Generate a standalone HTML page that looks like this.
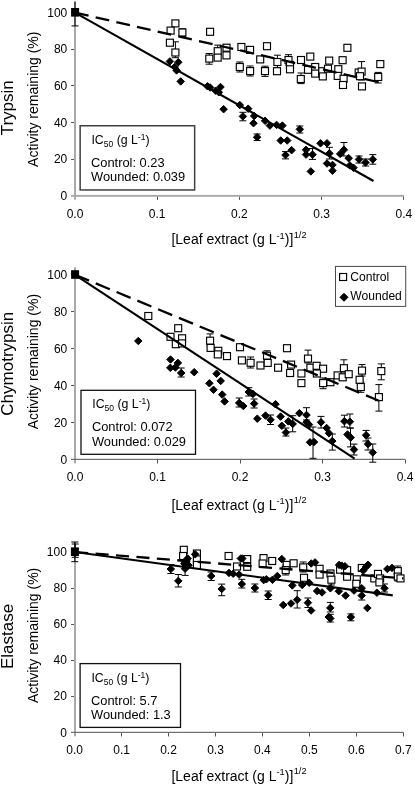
<!DOCTYPE html>
<html><head><meta charset="utf-8"><title>Protease inhibition</title>
<style>
html,body{margin:0;padding:0;background:#fff;}
body{width:415px;height:786px;overflow:hidden;}
svg{display:block;will-change:transform;}
text{font-family:"Liberation Sans", sans-serif;fill:#000;}
</style></head><body>
<svg width="415" height="786" viewBox="0 0 415 786">
<rect x="74" y="1.5" width="2" height="198.20" fill="#a9a9a9"/>
<rect x="71" y="194.9" width="333.00" height="1.9" fill="#a9a9a9"/>
<text x="67.3" y="199.90" text-anchor="end" font-size="12">0</text>
<rect x="71" y="159" width="3" height="1" fill="#555"/>
<text x="67.3" y="163.28" text-anchor="end" font-size="12">20</text>
<rect x="71" y="122" width="3" height="1" fill="#555"/>
<text x="67.3" y="126.66" text-anchor="end" font-size="12">40</text>
<rect x="71" y="85" width="3" height="1" fill="#555"/>
<text x="67.3" y="90.04" text-anchor="end" font-size="12">60</text>
<rect x="71" y="49" width="3" height="1" fill="#555"/>
<text x="67.3" y="53.42" text-anchor="end" font-size="12">80</text>
<rect x="71" y="12" width="3" height="1" fill="#555"/>
<text x="67.3" y="16.80" text-anchor="end" font-size="12">100</text>
<text x="75.00" y="217.80" text-anchor="middle" font-size="12">0.0</text>
<rect x="157" y="196.80" width="1" height="3.10" fill="#555"/>
<text x="157.20" y="217.80" text-anchor="middle" font-size="12">0.1</text>
<rect x="239" y="196.80" width="1" height="3.10" fill="#555"/>
<text x="239.40" y="217.80" text-anchor="middle" font-size="12">0.2</text>
<rect x="321" y="196.80" width="1" height="3.10" fill="#555"/>
<text x="321.60" y="217.80" text-anchor="middle" font-size="12">0.3</text>
<rect x="403" y="196.80" width="1" height="3.10" fill="#555"/>
<text x="403.80" y="217.80" text-anchor="middle" font-size="12">0.4</text>
<rect x="80.15" y="125.75" width="114.50" height="64.20" fill="#fff" stroke="#404040" stroke-width="1.5"/>
<text x="91.45" y="143.85" font-size="12.3">IC<tspan font-size="8.5" dy="2.8">50</tspan><tspan dy="-2.8"> (g L</tspan><tspan font-size="8.5" dy="-4.2">-1</tspan><tspan dy="4.2">)</tspan></text>
<text x="91.05" y="166.85" font-size="12.85">Control: 0.23</text>
<text x="91.05" y="181.25" font-size="12.85">Wounded: 0.039</text>
<path d="M175.4 41.8V57.7M171.9 41.8H178.9M171.9 57.7H178.9" stroke="#000" stroke-width="1" fill="none"/>
<path d="M217.7 45.1V51.0M214.2 45.1H221.2M214.2 51.0H221.2" stroke="#000" stroke-width="1" fill="none"/>
<path d="M226.4 44.8V50.0M222.9 44.8H229.9M222.9 50.0H229.9" stroke="#000" stroke-width="1" fill="none"/>
<path d="M209.2 53.5V64.2M205.7 53.5H212.7M205.7 64.2H212.7" stroke="#000" stroke-width="1" fill="none"/>
<path d="M265.0 66.2V76.4M261.5 66.2H268.5M261.5 76.4H268.5" stroke="#000" stroke-width="1" fill="none"/>
<path d="M277.4 55.2V68.0M273.9 55.2H280.9M273.9 68.0H280.9" stroke="#000" stroke-width="1" fill="none"/>
<path d="M288.5 54.7V65.0M285.0 54.7H292.0M285.0 65.0H292.0" stroke="#000" stroke-width="1" fill="none"/>
<path d="M301.0 73.0V83.6M297.5 73.0H304.5M297.5 83.6H304.5" stroke="#000" stroke-width="1" fill="none"/>
<path d="M361.6 61.6V80.0M358.1 61.6H365.1M358.1 80.0H365.1" stroke="#000" stroke-width="1" fill="none"/>
<path d="M378.2 72.4V83.0M374.7 72.4H381.7M374.7 83.0H381.7" stroke="#000" stroke-width="1" fill="none"/>
<path d="M239.8 62.0V72.0M236.3 62.0H243.3M236.3 72.0H243.3" stroke="#000" stroke-width="1" fill="none"/>
<path d="M182.4 28.8V36.5M178.9 28.8H185.9M178.9 36.5H185.9" stroke="#000" stroke-width="1" fill="none"/>
<path d="M250.1 66.0V76.0M246.6 66.0H253.6M246.6 76.0H253.6" stroke="#000" stroke-width="1" fill="none"/>
<path d="M242.9 112.3V120.8M239.4 112.3H246.4M239.4 120.8H246.4" stroke="#000" stroke-width="1" fill="none"/>
<path d="M257.1 134.0V140.5M253.6 134.0H260.6M253.6 140.5H260.6" stroke="#000" stroke-width="1" fill="none"/>
<path d="M285.5 151.6V158.9M282.0 151.6H289.0M282.0 158.9H289.0" stroke="#000" stroke-width="1" fill="none"/>
<path d="M312.5 148.6V159.4M309.0 148.6H316.0M309.0 159.4H316.0" stroke="#000" stroke-width="1" fill="none"/>
<path d="M329.4 147.3V159.0M325.9 147.3H332.9M325.9 159.0H332.9" stroke="#000" stroke-width="1" fill="none"/>
<path d="M343.9 142.5V156.0M340.4 142.5H347.4M340.4 156.0H347.4" stroke="#000" stroke-width="1" fill="none"/>
<path d="M372.8 154.6V164.2M369.3 154.6H376.3M369.3 164.2H376.3" stroke="#000" stroke-width="1" fill="none"/>
<path d="M299.8 126.0V133.0M296.3 126.0H303.3M296.3 133.0H303.3" stroke="#000" stroke-width="1" fill="none"/>
<path d="M359.0 156.0V163.0M355.5 156.0H362.5M355.5 163.0H362.5" stroke="#000" stroke-width="1" fill="none"/>
<path d="M365.5 159.0V166.0M362.0 159.0H369.0M362.0 166.0H369.0" stroke="#000" stroke-width="1" fill="none"/>
<path d="M75.0 1.5V25.9M71.5 25.9H78.5" stroke="#000" stroke-width="1" fill="none"/>
<rect x="171.9" y="19.9" width="7" height="7" fill="#fff" stroke="#000" stroke-width="1.15"/>
<rect x="167.1" y="27.1" width="7" height="7" fill="#fff" stroke="#000" stroke-width="1.15"/>
<rect x="178.9" y="29.0" width="7" height="7" fill="#fff" stroke="#000" stroke-width="1.15"/>
<rect x="166.4" y="39.2" width="7" height="7" fill="#fff" stroke="#000" stroke-width="1.15"/>
<rect x="171.9" y="49.0" width="7" height="7" fill="#fff" stroke="#000" stroke-width="1.15"/>
<rect x="206.6" y="28.3" width="7" height="7" fill="#fff" stroke="#000" stroke-width="1.15"/>
<rect x="205.8" y="55.1" width="7" height="7" fill="#fff" stroke="#000" stroke-width="1.15"/>
<rect x="214.2" y="47.7" width="7" height="7" fill="#fff" stroke="#000" stroke-width="1.15"/>
<rect x="214.2" y="54.1" width="7" height="7" fill="#fff" stroke="#000" stroke-width="1.15"/>
<rect x="223.0" y="44.2" width="7" height="7" fill="#fff" stroke="#000" stroke-width="1.15"/>
<rect x="223.0" y="51.9" width="7" height="7" fill="#fff" stroke="#000" stroke-width="1.15"/>
<rect x="237.9" y="43.5" width="7" height="7" fill="#fff" stroke="#000" stroke-width="1.15"/>
<rect x="246.6" y="46.4" width="7" height="7" fill="#fff" stroke="#000" stroke-width="1.15"/>
<rect x="236.3" y="63.5" width="7" height="7" fill="#fff" stroke="#000" stroke-width="1.15"/>
<rect x="246.6" y="67.6" width="7" height="7" fill="#fff" stroke="#000" stroke-width="1.15"/>
<rect x="263.5" y="42.7" width="7" height="7" fill="#fff" stroke="#000" stroke-width="1.15"/>
<rect x="256.7" y="55.9" width="7" height="7" fill="#fff" stroke="#000" stroke-width="1.15"/>
<rect x="261.5" y="67.6" width="7" height="7" fill="#fff" stroke="#000" stroke-width="1.15"/>
<rect x="273.9" y="58.5" width="7" height="7" fill="#fff" stroke="#000" stroke-width="1.15"/>
<rect x="273.5" y="67.7" width="7" height="7" fill="#fff" stroke="#000" stroke-width="1.15"/>
<rect x="285.0" y="56.5" width="7" height="7" fill="#fff" stroke="#000" stroke-width="1.15"/>
<rect x="286.5" y="61.4" width="7" height="7" fill="#fff" stroke="#000" stroke-width="1.15"/>
<rect x="286.5" y="65.8" width="7" height="7" fill="#fff" stroke="#000" stroke-width="1.15"/>
<rect x="297.5" y="56.5" width="7" height="7" fill="#fff" stroke="#000" stroke-width="1.15"/>
<rect x="306.8" y="53.1" width="7" height="7" fill="#fff" stroke="#000" stroke-width="1.15"/>
<rect x="304.5" y="66.3" width="7" height="7" fill="#fff" stroke="#000" stroke-width="1.15"/>
<rect x="311.7" y="63.5" width="7" height="7" fill="#fff" stroke="#000" stroke-width="1.15"/>
<rect x="311.7" y="70.1" width="7" height="7" fill="#fff" stroke="#000" stroke-width="1.15"/>
<rect x="297.3" y="75.5" width="7" height="7" fill="#fff" stroke="#000" stroke-width="1.15"/>
<rect x="318.8" y="67.7" width="7" height="7" fill="#fff" stroke="#000" stroke-width="1.15"/>
<rect x="319.3" y="72.9" width="7" height="7" fill="#fff" stroke="#000" stroke-width="1.15"/>
<rect x="325.7" y="57.1" width="7" height="7" fill="#fff" stroke="#000" stroke-width="1.15"/>
<rect x="324.5" y="65.2" width="7" height="7" fill="#fff" stroke="#000" stroke-width="1.15"/>
<rect x="343.9" y="44.3" width="7" height="7" fill="#fff" stroke="#000" stroke-width="1.15"/>
<rect x="339.1" y="56.7" width="7" height="7" fill="#fff" stroke="#000" stroke-width="1.15"/>
<rect x="334.8" y="65.7" width="7" height="7" fill="#fff" stroke="#000" stroke-width="1.15"/>
<rect x="334.2" y="72.4" width="7" height="7" fill="#fff" stroke="#000" stroke-width="1.15"/>
<rect x="340.1" y="75.3" width="7" height="7" fill="#fff" stroke="#000" stroke-width="1.15"/>
<rect x="339.5" y="81.5" width="7" height="7" fill="#fff" stroke="#000" stroke-width="1.15"/>
<rect x="355.2" y="69.0" width="7" height="7" fill="#fff" stroke="#000" stroke-width="1.15"/>
<rect x="358.1" y="68.1" width="7" height="7" fill="#fff" stroke="#000" stroke-width="1.15"/>
<rect x="358.5" y="82.9" width="7" height="7" fill="#fff" stroke="#000" stroke-width="1.15"/>
<rect x="376.8" y="60.6" width="7" height="7" fill="#fff" stroke="#000" stroke-width="1.15"/>
<rect x="374.7" y="73.5" width="7" height="7" fill="#fff" stroke="#000" stroke-width="1.15"/>
<rect x="356.5" y="72.7" width="7" height="7" fill="#fff" stroke="#000" stroke-width="1.15"/>
<path d="M207.5 82.55L211.25 86.3L207.5 90.05L203.75 86.3Z" fill="#000" stroke="#000" stroke-width="1" stroke-linejoin="round"/>
<path d="M169.9 57.65L173.65 61.4L169.9 65.15L166.15 61.4Z" fill="#000" stroke="#000" stroke-width="1" stroke-linejoin="round"/>
<path d="M178.3 58.45L182.05 62.2L178.3 65.95L174.55 62.2Z" fill="#000" stroke="#000" stroke-width="1" stroke-linejoin="round"/>
<path d="M174.7 63.25L178.45 67.0L174.7 70.75L170.95 67.0Z" fill="#000" stroke="#000" stroke-width="1" stroke-linejoin="round"/>
<path d="M176.6 66.65L180.35 70.4L176.6 74.15L172.85 70.4Z" fill="#000" stroke="#000" stroke-width="1" stroke-linejoin="round"/>
<path d="M180.7 77.65L184.45 81.4L180.7 85.15L176.95 81.4Z" fill="#000" stroke="#000" stroke-width="1" stroke-linejoin="round"/>
<path d="M210.1 83.75L213.85 87.5L210.1 91.25L206.35 87.5Z" fill="#000" stroke="#000" stroke-width="1" stroke-linejoin="round"/>
<path d="M215.7 86.95L219.45 90.7L215.7 94.45L211.95 90.7Z" fill="#000" stroke="#000" stroke-width="1" stroke-linejoin="round"/>
<path d="M220.5 83.25L224.25 87.0L220.5 90.75L216.75 87.0Z" fill="#000" stroke="#000" stroke-width="1" stroke-linejoin="round"/>
<path d="M218.8 88.55L222.55 92.3L218.8 96.05L215.05 92.3Z" fill="#000" stroke="#000" stroke-width="1" stroke-linejoin="round"/>
<path d="M223.6 105.45L227.35 109.2L223.6 112.95L219.85 109.2Z" fill="#000" stroke="#000" stroke-width="1" stroke-linejoin="round"/>
<path d="M239.8 101.35L243.55 105.1L239.8 108.85L236.05 105.1Z" fill="#000" stroke="#000" stroke-width="1" stroke-linejoin="round"/>
<path d="M248.2 104.95L251.95 108.7L248.2 112.45L244.45 108.7Z" fill="#000" stroke="#000" stroke-width="1" stroke-linejoin="round"/>
<path d="M242.9 112.65L246.65 116.4L242.9 120.15L239.15 116.4Z" fill="#000" stroke="#000" stroke-width="1" stroke-linejoin="round"/>
<path d="M254.2 112.25L257.95 116.0L254.2 119.75L250.45 116.0Z" fill="#000" stroke="#000" stroke-width="1" stroke-linejoin="round"/>
<path d="M253.5 119.45L257.25 123.2L253.5 126.95L249.75 123.2Z" fill="#000" stroke="#000" stroke-width="1" stroke-linejoin="round"/>
<path d="M257.1 133.45L260.85 137.2L257.1 140.95L253.35 137.2Z" fill="#000" stroke="#000" stroke-width="1" stroke-linejoin="round"/>
<path d="M265.1 117.05L268.85 120.8L265.1 124.55L261.35 120.8Z" fill="#000" stroke="#000" stroke-width="1" stroke-linejoin="round"/>
<path d="M269.9 121.85L273.65 125.6L269.9 129.35L266.15 125.6Z" fill="#000" stroke="#000" stroke-width="1" stroke-linejoin="round"/>
<path d="M276.6 121.15L280.35 124.9L276.6 128.65L272.85 124.9Z" fill="#000" stroke="#000" stroke-width="1" stroke-linejoin="round"/>
<path d="M282.4 121.85L286.15 125.6L282.4 129.35L278.65 125.6Z" fill="#000" stroke="#000" stroke-width="1" stroke-linejoin="round"/>
<path d="M280.7 136.75L284.45 140.5L280.7 144.25L276.95 140.5Z" fill="#000" stroke="#000" stroke-width="1" stroke-linejoin="round"/>
<path d="M287.2 136.75L290.95 140.5L287.2 144.25L283.45 140.5Z" fill="#000" stroke="#000" stroke-width="1" stroke-linejoin="round"/>
<path d="M291.6 146.45L295.35 150.2L291.6 153.95L287.85 150.2Z" fill="#000" stroke="#000" stroke-width="1" stroke-linejoin="round"/>
<path d="M285.5 151.25L289.25 155.0L285.5 158.75L281.75 155.0Z" fill="#000" stroke="#000" stroke-width="1" stroke-linejoin="round"/>
<path d="M299.8 125.55L303.55 129.3L299.8 133.05L296.05 129.3Z" fill="#000" stroke="#000" stroke-width="1" stroke-linejoin="round"/>
<path d="M306.0 146.05L309.75 149.8L306.0 153.55L302.25 149.8Z" fill="#000" stroke="#000" stroke-width="1" stroke-linejoin="round"/>
<path d="M306.0 150.85L309.75 154.6L306.0 158.35L302.25 154.6Z" fill="#000" stroke="#000" stroke-width="1" stroke-linejoin="round"/>
<path d="M312.5 150.85L316.25 154.6L312.5 158.35L308.75 154.6Z" fill="#000" stroke="#000" stroke-width="1" stroke-linejoin="round"/>
<path d="M310.8 167.65L314.55 171.4L310.8 175.15L307.05 171.4Z" fill="#000" stroke="#000" stroke-width="1" stroke-linejoin="round"/>
<path d="M320.5 139.55L324.25 143.3L320.5 147.05L316.75 143.3Z" fill="#000" stroke="#000" stroke-width="1" stroke-linejoin="round"/>
<path d="M327.0 139.55L330.75 143.3L327.0 147.05L323.25 143.3Z" fill="#000" stroke="#000" stroke-width="1" stroke-linejoin="round"/>
<path d="M329.4 149.65L333.15 153.4L329.4 157.15L325.65 153.4Z" fill="#000" stroke="#000" stroke-width="1" stroke-linejoin="round"/>
<path d="M327.0 159.75L330.75 163.5L327.0 167.25L323.25 163.5Z" fill="#000" stroke="#000" stroke-width="1" stroke-linejoin="round"/>
<path d="M332.5 161.15L336.25 164.9L332.5 168.65L328.75 164.9Z" fill="#000" stroke="#000" stroke-width="1" stroke-linejoin="round"/>
<path d="M332.5 166.95L336.25 170.7L332.5 174.45L328.75 170.7Z" fill="#000" stroke="#000" stroke-width="1" stroke-linejoin="round"/>
<path d="M340.2 150.15L343.95 153.9L340.2 157.65L336.45 153.9Z" fill="#000" stroke="#000" stroke-width="1" stroke-linejoin="round"/>
<path d="M343.9 146.05L347.65 149.8L343.9 153.55L340.15 149.8Z" fill="#000" stroke="#000" stroke-width="1" stroke-linejoin="round"/>
<path d="M348.7 154.45L352.45 158.2L348.7 161.95L344.95 158.2Z" fill="#000" stroke="#000" stroke-width="1" stroke-linejoin="round"/>
<path d="M349.9 161.65L353.65 165.4L349.9 169.15L346.15 165.4Z" fill="#000" stroke="#000" stroke-width="1" stroke-linejoin="round"/>
<path d="M353.5 164.05L357.25 167.8L353.5 171.55L349.75 167.8Z" fill="#000" stroke="#000" stroke-width="1" stroke-linejoin="round"/>
<path d="M359.0 155.65L362.75 159.4L359.0 163.15L355.25 159.4Z" fill="#000" stroke="#000" stroke-width="1" stroke-linejoin="round"/>
<path d="M365.5 158.75L369.25 162.5L365.5 166.25L361.75 162.5Z" fill="#000" stroke="#000" stroke-width="1" stroke-linejoin="round"/>
<path d="M372.8 155.65L376.55 159.4L372.8 163.15L369.05 159.4Z" fill="#000" stroke="#000" stroke-width="1" stroke-linejoin="round"/>
<path d="M75 12.6L373.5 181.0" stroke="#000" stroke-width="2.1" fill="none"/>
<path d="M75 12.6L382.2 83.0" stroke="#000" stroke-width="2.3" stroke-dasharray="13.9 7.3" stroke-dashoffset="0" fill="none"/>
<rect x="71.1" y="8.0" width="8" height="8.6" fill="#000"/>
<text x="239" y="244.3" text-anchor="middle" font-size="14">[Leaf extract (g L<tspan font-size="9.3" dy="-5.2">-1</tspan><tspan dy="5.2">)]</tspan><tspan font-size="9.3" dx="0.3" dy="-6.2">1/2</tspan></text>
<text transform="translate(13.35 107.75) rotate(-90)" text-anchor="middle" font-size="17">Trypsin</text>
<text transform="translate(37.8 99.2) rotate(-90)" text-anchor="middle" font-size="14">Activity remaining (%)</text>
<rect x="74" y="267.2" width="2" height="196.10" fill="#a9a9a9"/>
<rect x="71" y="458.8" width="334.50" height="1.1" fill="#616161"/>
<text x="67.3" y="463.50" text-anchor="end" font-size="12">0</text>
<rect x="71" y="422" width="3" height="1" fill="#555"/>
<text x="67.3" y="426.60" text-anchor="end" font-size="12">20</text>
<rect x="71" y="385" width="3" height="1" fill="#555"/>
<text x="67.3" y="389.70" text-anchor="end" font-size="12">40</text>
<rect x="71" y="348" width="3" height="1" fill="#555"/>
<text x="67.3" y="352.80" text-anchor="end" font-size="12">60</text>
<rect x="71" y="311" width="3" height="1" fill="#555"/>
<text x="67.3" y="315.90" text-anchor="end" font-size="12">80</text>
<rect x="71" y="274" width="3" height="1" fill="#555"/>
<text x="67.3" y="279.00" text-anchor="end" font-size="12">100</text>
<text x="75.00" y="481.40" text-anchor="middle" font-size="12">0.0</text>
<rect x="157" y="459.90" width="1" height="3.60" fill="#555"/>
<text x="157.50" y="481.40" text-anchor="middle" font-size="12">0.1</text>
<rect x="240" y="459.90" width="1" height="3.60" fill="#555"/>
<text x="240.00" y="481.40" text-anchor="middle" font-size="12">0.2</text>
<rect x="322" y="459.90" width="1" height="3.60" fill="#555"/>
<text x="322.50" y="481.40" text-anchor="middle" font-size="12">0.3</text>
<rect x="405" y="459.90" width="1" height="3.60" fill="#555"/>
<text x="405.00" y="481.40" text-anchor="middle" font-size="12">0.4</text>
<rect x="81" y="390.3" width="114.50" height="64.00" fill="#fff" stroke="#111" stroke-width="1.3"/>
<text x="92.30" y="408.40" font-size="12.3">IC<tspan font-size="8.5" dy="2.8">50</tspan><tspan dy="-2.8"> (g L</tspan><tspan font-size="8.5" dy="-4.2">-1</tspan><tspan dy="4.2">)</tspan></text>
<text x="91.90" y="431.40" font-size="12.85">Control: 0.072</text>
<text x="91.90" y="445.80" font-size="12.85">Wounded: 0.029</text>
<path d="M210.1 333.9V346.0M206.6 333.9H213.6M206.6 346.0H213.6" stroke="#000" stroke-width="1" fill="none"/>
<path d="M250.6 357.0V368.0M247.1 357.0H254.1M247.1 368.0H254.1" stroke="#000" stroke-width="1" fill="none"/>
<path d="M267.0 350.8V361.0M263.5 350.8H270.5M263.5 361.0H270.5" stroke="#000" stroke-width="1" fill="none"/>
<path d="M308.0 350.1V363.0M304.5 350.1H311.5M304.5 363.0H311.5" stroke="#000" stroke-width="1" fill="none"/>
<path d="M323.1 378.0V388.7M319.6 378.0H326.6M319.6 388.7H326.6" stroke="#000" stroke-width="1" fill="none"/>
<path d="M343.9 359.8V372.0M340.4 359.8H347.4M340.4 372.0H347.4" stroke="#000" stroke-width="1" fill="none"/>
<path d="M362.0 364.6V376.0M358.5 364.6H365.5M358.5 376.0H365.5" stroke="#000" stroke-width="1" fill="none"/>
<path d="M360.8 382.0V392.3M357.3 382.0H364.3M357.3 392.3H364.3" stroke="#000" stroke-width="1" fill="none"/>
<path d="M381.3 363.9V379.8M377.8 363.9H384.8M377.8 379.8H384.8" stroke="#000" stroke-width="1" fill="none"/>
<path d="M378.9 384.6V411.1M375.4 384.6H382.4M375.4 411.1H382.4" stroke="#000" stroke-width="1" fill="none"/>
<path d="M350.5 428.1V446.9M347.0 428.1H354.0M347.0 446.9H354.0" stroke="#000" stroke-width="1" fill="none"/>
<path d="M181.2 368.0V377.0M177.7 368.0H184.7M177.7 377.0H184.7" stroke="#000" stroke-width="1" fill="none"/>
<path d="M248.8 387.7V396.0M245.3 387.7H252.3M245.3 396.0H252.3" stroke="#000" stroke-width="1" fill="none"/>
<path d="M239.2 398.0V407.0M235.7 398.0H242.7M235.7 407.0H242.7" stroke="#000" stroke-width="1" fill="none"/>
<path d="M254.1 399.0V408.0M250.6 399.0H257.6M250.6 408.0H257.6" stroke="#000" stroke-width="1" fill="none"/>
<path d="M270.5 415.0V424.5M267.0 415.0H274.0M267.0 424.5H274.0" stroke="#000" stroke-width="1" fill="none"/>
<path d="M285.9 428.0V436.0M282.4 428.0H289.4M282.4 436.0H289.4" stroke="#000" stroke-width="1" fill="none"/>
<path d="M292.7 415.7V431.8M289.2 415.7H296.2M289.2 431.8H296.2" stroke="#000" stroke-width="1" fill="none"/>
<path d="M306.5 407.7V420.0M303.0 407.7H310.0M303.0 420.0H310.0" stroke="#000" stroke-width="1" fill="none"/>
<path d="M313.0 427.0V458.3M309.5 427.0H316.5M309.5 458.3H316.5" stroke="#000" stroke-width="1" fill="none"/>
<path d="M321.0 416.4V428.0M317.5 416.4H324.5M317.5 428.0H324.5" stroke="#000" stroke-width="1" fill="none"/>
<path d="M332.3 434.0V450.1M328.8 434.0H335.8M328.8 450.1H335.8" stroke="#000" stroke-width="1" fill="none"/>
<path d="M344.4 415.2V427.0M340.9 415.2H347.9M340.9 427.0H347.9" stroke="#000" stroke-width="1" fill="none"/>
<path d="M349.9 414.0V428.0M346.4 414.0H353.4M346.4 428.0H353.4" stroke="#000" stroke-width="1" fill="none"/>
<path d="M354.0 444.1V455.0M350.5 444.1H357.5M350.5 455.0H357.5" stroke="#000" stroke-width="1" fill="none"/>
<path d="M366.1 430.4V441.0M362.6 430.4H369.6M362.6 441.0H369.6" stroke="#000" stroke-width="1" fill="none"/>
<path d="M368.0 438.0V450.0M364.5 438.0H371.5M364.5 450.0H371.5" stroke="#000" stroke-width="1" fill="none"/>
<path d="M372.8 444.0V462.2M369.3 444.0H376.3M369.3 462.2H376.3" stroke="#000" stroke-width="1" fill="none"/>
<rect x="144.8" y="312.5" width="7" height="7" fill="#fff" stroke="#000" stroke-width="1.15"/>
<rect x="174.7" y="324.7" width="7" height="7" fill="#fff" stroke="#000" stroke-width="1.15"/>
<rect x="167.0" y="333.3" width="7" height="7" fill="#fff" stroke="#000" stroke-width="1.15"/>
<rect x="178.6" y="334.8" width="7" height="7" fill="#fff" stroke="#000" stroke-width="1.15"/>
<rect x="172.3" y="340.7" width="7" height="7" fill="#fff" stroke="#000" stroke-width="1.15"/>
<rect x="178.5" y="339.9" width="7" height="7" fill="#fff" stroke="#000" stroke-width="1.15"/>
<rect x="206.6" y="337.2" width="7" height="7" fill="#fff" stroke="#000" stroke-width="1.15"/>
<rect x="207.1" y="344.4" width="7" height="7" fill="#fff" stroke="#000" stroke-width="1.15"/>
<rect x="214.8" y="347.3" width="7" height="7" fill="#fff" stroke="#000" stroke-width="1.15"/>
<rect x="214.3" y="350.9" width="7" height="7" fill="#fff" stroke="#000" stroke-width="1.15"/>
<rect x="223.5" y="352.6" width="7" height="7" fill="#fff" stroke="#000" stroke-width="1.15"/>
<rect x="236.5" y="343.7" width="7" height="7" fill="#fff" stroke="#000" stroke-width="1.15"/>
<rect x="238.4" y="356.9" width="7" height="7" fill="#fff" stroke="#000" stroke-width="1.15"/>
<rect x="247.1" y="359.3" width="7" height="7" fill="#fff" stroke="#000" stroke-width="1.15"/>
<rect x="257.0" y="362.0" width="7" height="7" fill="#fff" stroke="#000" stroke-width="1.15"/>
<rect x="263.5" y="352.2" width="7" height="7" fill="#fff" stroke="#000" stroke-width="1.15"/>
<rect x="264.2" y="359.4" width="7" height="7" fill="#fff" stroke="#000" stroke-width="1.15"/>
<rect x="274.6" y="364.2" width="7" height="7" fill="#fff" stroke="#000" stroke-width="1.15"/>
<rect x="283.5" y="344.7" width="7" height="7" fill="#fff" stroke="#000" stroke-width="1.15"/>
<rect x="287.6" y="361.1" width="7" height="7" fill="#fff" stroke="#000" stroke-width="1.15"/>
<rect x="286.6" y="369.5" width="7" height="7" fill="#fff" stroke="#000" stroke-width="1.15"/>
<rect x="297.9" y="370.0" width="7" height="7" fill="#fff" stroke="#000" stroke-width="1.15"/>
<rect x="297.9" y="379.6" width="7" height="7" fill="#fff" stroke="#000" stroke-width="1.15"/>
<rect x="304.5" y="355.1" width="7" height="7" fill="#fff" stroke="#000" stroke-width="1.15"/>
<rect x="306.9" y="364.2" width="7" height="7" fill="#fff" stroke="#000" stroke-width="1.15"/>
<rect x="313.1" y="362.3" width="7" height="7" fill="#fff" stroke="#000" stroke-width="1.15"/>
<rect x="319.6" y="365.2" width="7" height="7" fill="#fff" stroke="#000" stroke-width="1.15"/>
<rect x="319.6" y="379.6" width="7" height="7" fill="#fff" stroke="#000" stroke-width="1.15"/>
<rect x="326.9" y="378.7" width="7" height="7" fill="#fff" stroke="#000" stroke-width="1.15"/>
<rect x="334.1" y="371.9" width="7" height="7" fill="#fff" stroke="#000" stroke-width="1.15"/>
<rect x="313.4" y="370.0" width="7" height="7" fill="#fff" stroke="#000" stroke-width="1.15"/>
<rect x="340.4" y="364.7" width="7" height="7" fill="#fff" stroke="#000" stroke-width="1.15"/>
<rect x="339.2" y="373.8" width="7" height="7" fill="#fff" stroke="#000" stroke-width="1.15"/>
<rect x="345.2" y="370.7" width="7" height="7" fill="#fff" stroke="#000" stroke-width="1.15"/>
<rect x="358.5" y="367.1" width="7" height="7" fill="#fff" stroke="#000" stroke-width="1.15"/>
<rect x="356.1" y="376.3" width="7" height="7" fill="#fff" stroke="#000" stroke-width="1.15"/>
<rect x="357.3" y="383.5" width="7" height="7" fill="#fff" stroke="#000" stroke-width="1.15"/>
<rect x="377.8" y="367.6" width="7" height="7" fill="#fff" stroke="#000" stroke-width="1.15"/>
<rect x="375.4" y="393.6" width="7" height="7" fill="#fff" stroke="#000" stroke-width="1.15"/>
<path d="M138.3 337.25L142.05 341.0L138.3 344.75L134.55 341.0Z" fill="#000" stroke="#000" stroke-width="1" stroke-linejoin="round"/>
<path d="M170.5 355.75L174.25 359.5L170.5 363.25L166.75 359.5Z" fill="#000" stroke="#000" stroke-width="1" stroke-linejoin="round"/>
<path d="M177.9 359.15L181.65 362.9L177.9 366.65L174.15 362.9Z" fill="#000" stroke="#000" stroke-width="1" stroke-linejoin="round"/>
<path d="M170.3 364.05L174.05 367.8L170.3 371.55L166.55 367.8Z" fill="#000" stroke="#000" stroke-width="1" stroke-linejoin="round"/>
<path d="M175.4 363.75L179.15 367.5L175.4 371.25L171.65 367.5Z" fill="#000" stroke="#000" stroke-width="1" stroke-linejoin="round"/>
<path d="M181.2 369.25L184.95 373.0L181.2 376.75L177.45 373.0Z" fill="#000" stroke="#000" stroke-width="1" stroke-linejoin="round"/>
<path d="M194.2 368.45L197.95 372.2L194.2 375.95L190.45 372.2Z" fill="#000" stroke="#000" stroke-width="1" stroke-linejoin="round"/>
<path d="M216.6 369.95L220.35 373.7L216.6 377.45L212.85 373.7Z" fill="#000" stroke="#000" stroke-width="1" stroke-linejoin="round"/>
<path d="M220.7 377.15L224.45 380.9L220.7 384.65L216.95 380.9Z" fill="#000" stroke="#000" stroke-width="1" stroke-linejoin="round"/>
<path d="M209.4 379.55L213.15 383.3L209.4 387.05L205.65 383.3Z" fill="#000" stroke="#000" stroke-width="1" stroke-linejoin="round"/>
<path d="M213.5 386.05L217.25 389.8L213.5 393.55L209.75 389.8Z" fill="#000" stroke="#000" stroke-width="1" stroke-linejoin="round"/>
<path d="M222.2 390.85L225.95 394.6L222.2 398.35L218.45 394.6Z" fill="#000" stroke="#000" stroke-width="1" stroke-linejoin="round"/>
<path d="M224.6 397.65L228.35 401.4L224.6 405.15L220.85 401.4Z" fill="#000" stroke="#000" stroke-width="1" stroke-linejoin="round"/>
<path d="M248.8 388.25L252.55 392.0L248.8 395.75L245.05 392.0Z" fill="#000" stroke="#000" stroke-width="1" stroke-linejoin="round"/>
<path d="M252.9 390.25L256.65 394.0L252.9 397.75L249.15 394.0Z" fill="#000" stroke="#000" stroke-width="1" stroke-linejoin="round"/>
<path d="M239.2 399.15L242.95 402.9L239.2 406.65L235.45 402.9Z" fill="#000" stroke="#000" stroke-width="1" stroke-linejoin="round"/>
<path d="M243.3 402.25L247.05 406.0L243.3 409.75L239.55 406.0Z" fill="#000" stroke="#000" stroke-width="1" stroke-linejoin="round"/>
<path d="M254.1 399.85L257.85 403.6L254.1 407.35L250.35 403.6Z" fill="#000" stroke="#000" stroke-width="1" stroke-linejoin="round"/>
<path d="M275.5 400.45L279.25 404.2L275.5 407.95L271.75 404.2Z" fill="#000" stroke="#000" stroke-width="1" stroke-linejoin="round"/>
<path d="M257.3 414.95L261.05 418.7L257.3 422.45L253.55 418.7Z" fill="#000" stroke="#000" stroke-width="1" stroke-linejoin="round"/>
<path d="M265.5 411.85L269.25 415.6L265.5 419.35L261.75 415.6Z" fill="#000" stroke="#000" stroke-width="1" stroke-linejoin="round"/>
<path d="M270.5 416.05L274.25 419.8L270.5 423.55L266.75 419.8Z" fill="#000" stroke="#000" stroke-width="1" stroke-linejoin="round"/>
<path d="M280.6 412.85L284.35 416.6L280.6 420.35L276.85 416.6Z" fill="#000" stroke="#000" stroke-width="1" stroke-linejoin="round"/>
<path d="M281.8 422.05L285.55 425.8L281.8 429.55L278.05 425.8Z" fill="#000" stroke="#000" stroke-width="1" stroke-linejoin="round"/>
<path d="M285.9 428.75L289.65 432.5L285.9 436.25L282.15 432.5Z" fill="#000" stroke="#000" stroke-width="1" stroke-linejoin="round"/>
<path d="M288.3 417.65L292.05 421.4L288.3 425.15L284.55 421.4Z" fill="#000" stroke="#000" stroke-width="1" stroke-linejoin="round"/>
<path d="M292.7 420.15L296.45 423.9L292.7 427.65L288.95 423.9Z" fill="#000" stroke="#000" stroke-width="1" stroke-linejoin="round"/>
<path d="M299.4 409.45L303.15 413.2L299.4 416.95L295.65 413.2Z" fill="#000" stroke="#000" stroke-width="1" stroke-linejoin="round"/>
<path d="M306.5 411.25L310.25 415.0L306.5 418.75L302.75 415.0Z" fill="#000" stroke="#000" stroke-width="1" stroke-linejoin="round"/>
<path d="M306.6 418.45L310.35 422.2L306.6 425.95L302.85 422.2Z" fill="#000" stroke="#000" stroke-width="1" stroke-linejoin="round"/>
<path d="M309.0 420.85L312.75 424.6L309.0 428.35L305.25 424.6Z" fill="#000" stroke="#000" stroke-width="1" stroke-linejoin="round"/>
<path d="M310.0 438.55L313.75 442.3L310.0 446.05L306.25 442.3Z" fill="#000" stroke="#000" stroke-width="1" stroke-linejoin="round"/>
<path d="M314.0 438.25L317.75 442.0L314.0 445.75L310.25 442.0Z" fill="#000" stroke="#000" stroke-width="1" stroke-linejoin="round"/>
<path d="M321.0 418.55L324.75 422.3L321.0 426.05L317.25 422.3Z" fill="#000" stroke="#000" stroke-width="1" stroke-linejoin="round"/>
<path d="M326.6 424.25L330.35 428.0L326.6 431.75L322.85 428.0Z" fill="#000" stroke="#000" stroke-width="1" stroke-linejoin="round"/>
<path d="M329.0 429.55L332.75 433.3L329.0 437.05L325.25 433.3Z" fill="#000" stroke="#000" stroke-width="1" stroke-linejoin="round"/>
<path d="M332.3 437.25L336.05 441.0L332.3 444.75L328.55 441.0Z" fill="#000" stroke="#000" stroke-width="1" stroke-linejoin="round"/>
<path d="M344.4 417.45L348.15 421.2L344.4 424.95L340.65 421.2Z" fill="#000" stroke="#000" stroke-width="1" stroke-linejoin="round"/>
<path d="M349.9 417.95L353.65 421.7L349.9 425.45L346.15 421.7Z" fill="#000" stroke="#000" stroke-width="1" stroke-linejoin="round"/>
<path d="M347.5 430.75L351.25 434.5L347.5 438.25L343.75 434.5Z" fill="#000" stroke="#000" stroke-width="1" stroke-linejoin="round"/>
<path d="M350.7 433.85L354.45 437.6L350.7 441.35L346.95 437.6Z" fill="#000" stroke="#000" stroke-width="1" stroke-linejoin="round"/>
<path d="M354.0 445.85L357.75 449.6L354.0 453.35L350.25 449.6Z" fill="#000" stroke="#000" stroke-width="1" stroke-linejoin="round"/>
<path d="M366.1 431.45L369.85 435.2L366.1 438.95L362.35 435.2Z" fill="#000" stroke="#000" stroke-width="1" stroke-linejoin="round"/>
<path d="M368.0 440.35L371.75 444.1L368.0 447.85L364.25 444.1Z" fill="#000" stroke="#000" stroke-width="1" stroke-linejoin="round"/>
<path d="M372.8 448.75L376.55 452.5L372.8 456.25L369.05 452.5Z" fill="#000" stroke="#000" stroke-width="1" stroke-linejoin="round"/>
<path d="M75 274.8L354.6 458.6" stroke="#000" stroke-width="2.1" fill="none"/>
<path d="M75 274.8L378.9 400.7" stroke="#000" stroke-width="2.3" stroke-dasharray="15.2 7.3" stroke-dashoffset="0" fill="none"/>
<rect x="71.1" y="270.2" width="8" height="8.6" fill="#000"/>
<text x="239" y="509.5" text-anchor="middle" font-size="14">[Leaf extract (g L<tspan font-size="9.3" dy="-5.2">-1</tspan><tspan dy="5.2">)]</tspan><tspan font-size="9.3" dx="0.3" dy="-6.2">1/2</tspan></text>
<text transform="translate(13.35 363.7) rotate(-90)" text-anchor="middle" font-size="17">Chymotrypsin</text>
<text transform="translate(37.8 361.6) rotate(-90)" text-anchor="middle" font-size="14">Activity remaining (%)</text>
<rect x="335.5" y="266.4" width="70.2" height="40" fill="#fff" stroke="#4a4a4a" stroke-width="1"/>
<rect x="339.6" y="273.5" width="7" height="7" fill="#fff" stroke="#000" stroke-width="1.15"/>
<path d="M344.0 293.30L348.00 297.3L344.0 301.30L340.00 297.3Z" fill="#000" stroke="#000" stroke-width="1" stroke-linejoin="round"/>
<text x="350.3" y="280.6" font-size="12.1">Control</text>
<text x="350.3" y="299.9" font-size="12.1">Wounded</text>
<rect x="74" y="542" width="2" height="194.30" fill="#a9a9a9"/>
<rect x="71" y="731.8" width="332.80" height="1.1" fill="#616161"/>
<text x="66.89999999999999" y="736.50" text-anchor="end" font-size="12">0</text>
<rect x="71" y="696" width="3" height="1" fill="#555"/>
<text x="66.89999999999999" y="700.44" text-anchor="end" font-size="12">20</text>
<rect x="71" y="660" width="3" height="1" fill="#555"/>
<text x="66.89999999999999" y="664.38" text-anchor="end" font-size="12">40</text>
<rect x="71" y="624" width="3" height="1" fill="#555"/>
<text x="66.89999999999999" y="628.32" text-anchor="end" font-size="12">60</text>
<rect x="71" y="588" width="3" height="1" fill="#555"/>
<text x="66.89999999999999" y="592.26" text-anchor="end" font-size="12">80</text>
<rect x="71" y="552" width="3" height="1" fill="#555"/>
<text x="66.89999999999999" y="556.20" text-anchor="end" font-size="12">100</text>
<text x="74.60" y="754.40" text-anchor="middle" font-size="12">0.0</text>
<rect x="121" y="732.90" width="1" height="3.60" fill="#555"/>
<text x="121.56" y="754.40" text-anchor="middle" font-size="12">0.1</text>
<rect x="168" y="732.90" width="1" height="3.60" fill="#555"/>
<text x="168.52" y="754.40" text-anchor="middle" font-size="12">0.2</text>
<rect x="215" y="732.90" width="1" height="3.60" fill="#555"/>
<text x="215.48" y="754.40" text-anchor="middle" font-size="12">0.3</text>
<rect x="262" y="732.90" width="1" height="3.60" fill="#555"/>
<text x="262.44" y="754.40" text-anchor="middle" font-size="12">0.4</text>
<rect x="309" y="732.90" width="1" height="3.60" fill="#555"/>
<text x="309.40" y="754.40" text-anchor="middle" font-size="12">0.5</text>
<rect x="356" y="732.90" width="1" height="3.60" fill="#555"/>
<text x="356.36" y="754.40" text-anchor="middle" font-size="12">0.6</text>
<rect x="403" y="732.90" width="1" height="3.60" fill="#555"/>
<text x="403.32" y="754.40" text-anchor="middle" font-size="12">0.7</text>
<rect x="80.1" y="663.6" width="100.40" height="63.80" fill="#fff" stroke="#111" stroke-width="1.3"/>
<text x="91.40" y="681.70" font-size="12.3">IC<tspan font-size="8.5" dy="2.8">50</tspan><tspan dy="-2.8"> (g L</tspan><tspan font-size="8.5" dy="-4.2">-1</tspan><tspan dy="4.2">)</tspan></text>
<text x="91.00" y="704.70" font-size="12.85">Control: 5.7</text>
<text x="91.00" y="719.10" font-size="12.85">Wounded: 1.3</text>
<path d="M74.8 542.0V561.7M71.3 542.0H78.3M71.3 561.7H78.3" stroke="#000" stroke-width="1" fill="none"/>
<path d="M75.2 544.0V557.3M71.7 544.0H78.7M71.7 557.3H78.7" stroke="#000" stroke-width="1" fill="none"/>
<path d="M303.2 562.0V572.0M299.7 562.0H306.7M299.7 572.0H306.7" stroke="#000" stroke-width="1" fill="none"/>
<path d="M331.4 574.0V585.0M327.9 574.0H334.9M327.9 585.0H334.9" stroke="#000" stroke-width="1" fill="none"/>
<path d="M397.8 566.0V581.0M394.3 566.0H401.3M394.3 581.0H401.3" stroke="#000" stroke-width="1" fill="none"/>
<path d="M285.7 565.0V575.0M282.2 565.0H289.2M282.2 575.0H289.2" stroke="#000" stroke-width="1" fill="none"/>
<path d="M170.8 564.5V573.5M167.3 564.5H174.3M167.3 573.5H174.3" stroke="#000" stroke-width="1" fill="none"/>
<path d="M178.3 574.5V587.0M174.8 574.5H181.8M174.8 587.0H181.8" stroke="#000" stroke-width="1" fill="none"/>
<path d="M185.1 563.0V575.4M181.6 563.0H188.6M181.6 575.4H188.6" stroke="#000" stroke-width="1" fill="none"/>
<path d="M211.2 572.0V580.5M207.7 572.0H214.7M207.7 580.5H214.7" stroke="#000" stroke-width="1" fill="none"/>
<path d="M221.7 584.1V595.7M218.2 584.1H225.2M218.2 595.7H225.2" stroke="#000" stroke-width="1" fill="none"/>
<path d="M241.8 579.3V588.0M238.3 579.3H245.3M238.3 588.0H245.3" stroke="#000" stroke-width="1" fill="none"/>
<path d="M254.9 584.0V592.0M251.4 584.0H258.4M251.4 592.0H258.4" stroke="#000" stroke-width="1" fill="none"/>
<path d="M268.2 591.0V599.5M264.7 591.0H271.7M264.7 599.5H271.7" stroke="#000" stroke-width="1" fill="none"/>
<path d="M297.2 590.7V608.0M293.7 590.7H300.7M293.7 608.0H300.7" stroke="#000" stroke-width="1" fill="none"/>
<path d="M307.9 598.0V607.5M304.4 598.0H311.4M304.4 607.5H311.4" stroke="#000" stroke-width="1" fill="none"/>
<path d="M330.3 602.4V612.0M326.8 602.4H333.8M326.8 612.0H333.8" stroke="#000" stroke-width="1" fill="none"/>
<path d="M330.3 614.3V622.0M326.8 614.3H333.8M326.8 622.0H333.8" stroke="#000" stroke-width="1" fill="none"/>
<path d="M350.9 613.9V620.8M347.4 613.9H354.4M347.4 620.8H354.4" stroke="#000" stroke-width="1" fill="none"/>
<path d="M361.7 591.0V600.0M358.2 591.0H365.2M358.2 600.0H365.2" stroke="#000" stroke-width="1" fill="none"/>
<path d="M384.5 584.0V592.0M381.0 584.0H388.0M381.0 592.0H388.0" stroke="#000" stroke-width="1" fill="none"/>
<rect x="180.3" y="546.3" width="7" height="7" fill="#fff" stroke="#000" stroke-width="1.15"/>
<rect x="179.6" y="552.5" width="7" height="7" fill="#fff" stroke="#000" stroke-width="1.15"/>
<rect x="193.4" y="550.0" width="7" height="7" fill="#fff" stroke="#000" stroke-width="1.15"/>
<rect x="193.4" y="555.9" width="7" height="7" fill="#fff" stroke="#000" stroke-width="1.15"/>
<rect x="193.4" y="561.5" width="7" height="7" fill="#fff" stroke="#000" stroke-width="1.15"/>
<rect x="225.1" y="552.5" width="7" height="7" fill="#fff" stroke="#000" stroke-width="1.15"/>
<rect x="233.5" y="563.0" width="7" height="7" fill="#fff" stroke="#000" stroke-width="1.15"/>
<rect x="243.7" y="555.6" width="7" height="7" fill="#fff" stroke="#000" stroke-width="1.15"/>
<rect x="243.7" y="563.3" width="7" height="7" fill="#fff" stroke="#000" stroke-width="1.15"/>
<rect x="260.0" y="554.6" width="7" height="7" fill="#fff" stroke="#000" stroke-width="1.15"/>
<rect x="259.1" y="560.0" width="7" height="7" fill="#fff" stroke="#000" stroke-width="1.15"/>
<rect x="268.7" y="557.5" width="7" height="7" fill="#fff" stroke="#000" stroke-width="1.15"/>
<rect x="283.2" y="561.4" width="7" height="7" fill="#fff" stroke="#000" stroke-width="1.15"/>
<rect x="290.1" y="559.8" width="7" height="7" fill="#fff" stroke="#000" stroke-width="1.15"/>
<rect x="282.2" y="566.6" width="7" height="7" fill="#fff" stroke="#000" stroke-width="1.15"/>
<rect x="299.7" y="563.9" width="7" height="7" fill="#fff" stroke="#000" stroke-width="1.15"/>
<rect x="300.5" y="574.3" width="7" height="7" fill="#fff" stroke="#000" stroke-width="1.15"/>
<rect x="316.1" y="565.3" width="7" height="7" fill="#fff" stroke="#000" stroke-width="1.15"/>
<rect x="316.1" y="571.1" width="7" height="7" fill="#fff" stroke="#000" stroke-width="1.15"/>
<rect x="327.0" y="570.0" width="7" height="7" fill="#fff" stroke="#000" stroke-width="1.15"/>
<rect x="327.9" y="576.2" width="7" height="7" fill="#fff" stroke="#000" stroke-width="1.15"/>
<rect x="336.6" y="566.2" width="7" height="7" fill="#fff" stroke="#000" stroke-width="1.15"/>
<rect x="343.6" y="566.7" width="7" height="7" fill="#fff" stroke="#000" stroke-width="1.15"/>
<rect x="343.6" y="573.2" width="7" height="7" fill="#fff" stroke="#000" stroke-width="1.15"/>
<rect x="353.3" y="575.8" width="7" height="7" fill="#fff" stroke="#000" stroke-width="1.15"/>
<rect x="352.8" y="580.3" width="7" height="7" fill="#fff" stroke="#000" stroke-width="1.15"/>
<rect x="358.3" y="564.5" width="7" height="7" fill="#fff" stroke="#000" stroke-width="1.15"/>
<rect x="370.8" y="574.9" width="7" height="7" fill="#fff" stroke="#000" stroke-width="1.15"/>
<rect x="374.5" y="570.4" width="7" height="7" fill="#fff" stroke="#000" stroke-width="1.15"/>
<rect x="376.6" y="574.9" width="7" height="7" fill="#fff" stroke="#000" stroke-width="1.15"/>
<rect x="375.9" y="578.9" width="7" height="7" fill="#fff" stroke="#000" stroke-width="1.15"/>
<rect x="394.3" y="567.6" width="7" height="7" fill="#fff" stroke="#000" stroke-width="1.15"/>
<rect x="394.3" y="573.1" width="7" height="7" fill="#fff" stroke="#000" stroke-width="1.15"/>
<rect x="397.0" y="574.9" width="7" height="7" fill="#fff" stroke="#000" stroke-width="1.15"/>
<path d="M170.8 565.25L174.55 569.0L170.8 572.75L167.05 569.0Z" fill="#000" stroke="#000" stroke-width="1" stroke-linejoin="round"/>
<path d="M178.3 577.15L182.05 580.9L178.3 584.65L174.55 580.9Z" fill="#000" stroke="#000" stroke-width="1" stroke-linejoin="round"/>
<path d="M195.2 550.55L198.95 554.3L195.2 558.05L191.45 554.3Z" fill="#000" stroke="#000" stroke-width="1" stroke-linejoin="round"/>
<path d="M187.6 554.75L191.35 558.5L187.6 562.25L183.85 558.5Z" fill="#000" stroke="#000" stroke-width="1" stroke-linejoin="round"/>
<path d="M184.3 559.85L188.05 563.6L184.3 567.35L180.55 563.6Z" fill="#000" stroke="#000" stroke-width="1" stroke-linejoin="round"/>
<path d="M188.5 561.55L192.25 565.3L188.5 569.05L184.75 565.3Z" fill="#000" stroke="#000" stroke-width="1" stroke-linejoin="round"/>
<path d="M185.1 564.95L188.85 568.7L185.1 572.45L181.35 568.7Z" fill="#000" stroke="#000" stroke-width="1" stroke-linejoin="round"/>
<path d="M211.2 572.25L214.95 576.0L211.2 579.75L207.45 576.0Z" fill="#000" stroke="#000" stroke-width="1" stroke-linejoin="round"/>
<path d="M221.7 585.25L225.45 589.0L221.7 592.75L217.95 589.0Z" fill="#000" stroke="#000" stroke-width="1" stroke-linejoin="round"/>
<path d="M229.0 569.15L232.75 572.9L229.0 576.65L225.25 572.9Z" fill="#000" stroke="#000" stroke-width="1" stroke-linejoin="round"/>
<path d="M233.2 569.95L236.95 573.7L233.2 577.45L229.45 573.7Z" fill="#000" stroke="#000" stroke-width="1" stroke-linejoin="round"/>
<path d="M239.1 570.85L242.85 574.6L239.1 578.35L235.35 574.6Z" fill="#000" stroke="#000" stroke-width="1" stroke-linejoin="round"/>
<path d="M240.8 554.75L244.55 558.5L240.8 562.25L237.05 558.5Z" fill="#000" stroke="#000" stroke-width="1" stroke-linejoin="round"/>
<path d="M242.3 554.75L246.05 558.5L242.3 562.25L238.55 558.5Z" fill="#000" stroke="#000" stroke-width="1" stroke-linejoin="round"/>
<path d="M241.8 580.25L245.55 584.0L241.8 587.75L238.05 584.0Z" fill="#000" stroke="#000" stroke-width="1" stroke-linejoin="round"/>
<path d="M254.9 584.25L258.65 588.0L254.9 591.75L251.15 588.0Z" fill="#000" stroke="#000" stroke-width="1" stroke-linejoin="round"/>
<path d="M263.7 576.35L267.45 580.1L263.7 583.85L259.95 580.1Z" fill="#000" stroke="#000" stroke-width="1" stroke-linejoin="round"/>
<path d="M266.4 575.55L270.15 579.3L266.4 583.05L262.65 579.3Z" fill="#000" stroke="#000" stroke-width="1" stroke-linejoin="round"/>
<path d="M272.5 576.05L276.25 579.8L272.5 583.55L268.75 579.8Z" fill="#000" stroke="#000" stroke-width="1" stroke-linejoin="round"/>
<path d="M277.3 572.25L281.05 576.0L277.3 579.75L273.55 576.0Z" fill="#000" stroke="#000" stroke-width="1" stroke-linejoin="round"/>
<path d="M281.8 555.35L285.55 559.1L281.8 562.85L278.05 559.1Z" fill="#000" stroke="#000" stroke-width="1" stroke-linejoin="round"/>
<path d="M268.2 591.45L271.95 595.2L268.2 598.95L264.45 595.2Z" fill="#000" stroke="#000" stroke-width="1" stroke-linejoin="round"/>
<path d="M283.2 601.25L286.95 605.0L283.2 608.75L279.45 605.0Z" fill="#000" stroke="#000" stroke-width="1" stroke-linejoin="round"/>
<path d="M291.0 599.75L294.75 603.5L291.0 607.25L287.25 603.5Z" fill="#000" stroke="#000" stroke-width="1" stroke-linejoin="round"/>
<path d="M297.2 596.05L300.95 599.8L297.2 603.55L293.45 599.8Z" fill="#000" stroke="#000" stroke-width="1" stroke-linejoin="round"/>
<path d="M292.3 581.65L296.05 585.4L292.3 589.15L288.55 585.4Z" fill="#000" stroke="#000" stroke-width="1" stroke-linejoin="round"/>
<path d="M302.2 581.25L305.95 585.0L302.2 588.75L298.45 585.0Z" fill="#000" stroke="#000" stroke-width="1" stroke-linejoin="round"/>
<path d="M309.2 579.05L312.95 582.8L309.2 586.55L305.45 582.8Z" fill="#000" stroke="#000" stroke-width="1" stroke-linejoin="round"/>
<path d="M311.2 559.75L314.95 563.5L311.2 567.25L307.45 563.5Z" fill="#000" stroke="#000" stroke-width="1" stroke-linejoin="round"/>
<path d="M315.0 558.65L318.75 562.4L315.0 566.15L311.25 562.4Z" fill="#000" stroke="#000" stroke-width="1" stroke-linejoin="round"/>
<path d="M339.1 561.15L342.85 564.9L339.1 568.65L335.35 564.9Z" fill="#000" stroke="#000" stroke-width="1" stroke-linejoin="round"/>
<path d="M344.9 562.45L348.65 566.2L344.9 569.95L341.15 566.2Z" fill="#000" stroke="#000" stroke-width="1" stroke-linejoin="round"/>
<path d="M366.1 563.05L369.85 566.8L366.1 570.55L362.35 566.8Z" fill="#000" stroke="#000" stroke-width="1" stroke-linejoin="round"/>
<path d="M363.2 566.85L366.95 570.6L363.2 574.35L359.45 570.6Z" fill="#000" stroke="#000" stroke-width="1" stroke-linejoin="round"/>
<path d="M307.9 598.95L311.65 602.7L307.9 606.45L304.15 602.7Z" fill="#000" stroke="#000" stroke-width="1" stroke-linejoin="round"/>
<path d="M311.1 606.75L314.85 610.5L311.1 614.25L307.35 610.5Z" fill="#000" stroke="#000" stroke-width="1" stroke-linejoin="round"/>
<path d="M317.1 587.25L320.85 591.0L317.1 594.75L313.35 591.0Z" fill="#000" stroke="#000" stroke-width="1" stroke-linejoin="round"/>
<path d="M322.0 588.65L325.75 592.4L322.0 596.15L318.25 592.4Z" fill="#000" stroke="#000" stroke-width="1" stroke-linejoin="round"/>
<path d="M330.4 584.55L334.15 588.3L330.4 592.05L326.65 588.3Z" fill="#000" stroke="#000" stroke-width="1" stroke-linejoin="round"/>
<path d="M338.8 587.45L342.55 591.2L338.8 594.95L335.05 591.2Z" fill="#000" stroke="#000" stroke-width="1" stroke-linejoin="round"/>
<path d="M345.6 591.85L349.35 595.6L345.6 599.35L341.85 595.6Z" fill="#000" stroke="#000" stroke-width="1" stroke-linejoin="round"/>
<path d="M330.3 604.15L334.05 607.9L330.3 611.65L326.55 607.9Z" fill="#000" stroke="#000" stroke-width="1" stroke-linejoin="round"/>
<path d="M330.3 614.75L334.05 618.5L330.3 622.25L326.55 618.5Z" fill="#000" stroke="#000" stroke-width="1" stroke-linejoin="round"/>
<path d="M350.9 613.35L354.65 617.1L350.9 620.85L347.15 617.1Z" fill="#000" stroke="#000" stroke-width="1" stroke-linejoin="round"/>
<path d="M367.4 604.25L371.15 608.0L367.4 611.75L363.65 608.0Z" fill="#000" stroke="#000" stroke-width="1" stroke-linejoin="round"/>
<path d="M354.0 586.85L357.75 590.6L354.0 594.35L350.25 590.6Z" fill="#000" stroke="#000" stroke-width="1" stroke-linejoin="round"/>
<path d="M361.7 584.45L365.45 588.2L361.7 591.95L357.95 588.2Z" fill="#000" stroke="#000" stroke-width="1" stroke-linejoin="round"/>
<path d="M361.7 591.85L365.45 595.6L361.7 599.35L357.95 595.6Z" fill="#000" stroke="#000" stroke-width="1" stroke-linejoin="round"/>
<path d="M376.9 588.95L380.65 592.7L376.9 596.45L373.15 592.7Z" fill="#000" stroke="#000" stroke-width="1" stroke-linejoin="round"/>
<path d="M384.5 584.45L388.25 588.2L384.5 591.95L380.75 588.2Z" fill="#000" stroke="#000" stroke-width="1" stroke-linejoin="round"/>
<path d="M387.4 565.25L391.15 569.0L387.4 572.75L383.65 569.0Z" fill="#000" stroke="#000" stroke-width="1" stroke-linejoin="round"/>
<path d="M392.0 564.15L395.75 567.9L392.0 571.65L388.25 567.9Z" fill="#000" stroke="#000" stroke-width="1" stroke-linejoin="round"/>
<path d="M341.8 561.95L345.55 565.7L341.8 569.45L338.05 565.7Z" fill="#000" stroke="#000" stroke-width="1" stroke-linejoin="round"/>
<path d="M368.0 561.05L371.75 564.8L368.0 568.55L364.25 564.8Z" fill="#000" stroke="#000" stroke-width="1" stroke-linejoin="round"/>
<path d="M328.8 613.25L332.55 617.0L328.8 620.75L325.05 617.0Z" fill="#000" stroke="#000" stroke-width="1" stroke-linejoin="round"/>
<path d="M74.8 552L392.8 595.4" stroke="#000" stroke-width="2.1" fill="none"/>
<path d="M74.8 552L403.3 578.4" stroke="#000" stroke-width="2.3" stroke-dasharray="13.1 7.4" stroke-dashoffset="-0.3" fill="none"/>
<rect x="70.9" y="547.4" width="8" height="8.6" fill="#000"/>
<text x="239" y="780.5" text-anchor="middle" font-size="14">[Leaf extract (g L<tspan font-size="9.3" dy="-5.2">-1</tspan><tspan dy="5.2">)]</tspan><tspan font-size="9.3" dx="0.3" dy="-6.2">1/2</tspan></text>
<text transform="translate(13.35 636.4) rotate(-90)" text-anchor="middle" font-size="17">Elastase</text>
<text transform="translate(37.8 635.4) rotate(-90)" text-anchor="middle" font-size="14">Activity remaining (%)</text>
</svg>
</body></html>
